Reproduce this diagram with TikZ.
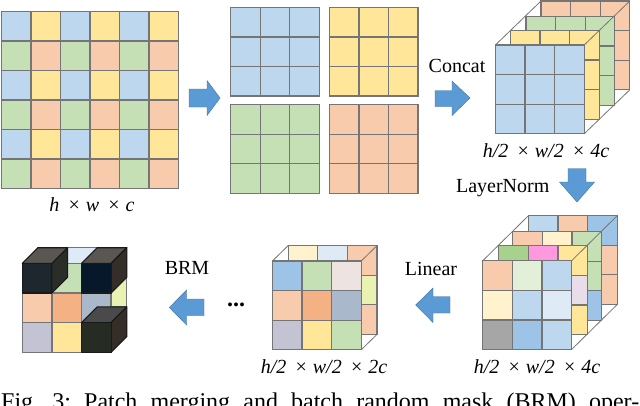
\documentclass[tikz,border=0pt]{standalone}
\usepackage{fontspec}
\setmainfont{Liberation Serif}
\definecolor{gridc}{HTML}{757575}
\definecolor{cb}{HTML}{BDD7EE}
\definecolor{cy}{HTML}{FFE699}
\definecolor{cg}{HTML}{C5E0B4}
\definecolor{co}{HTML}{F8CBAD}
\definecolor{cm}{HTML}{9DC3E6}
\definecolor{cl}{HTML}{DEEBF7}
\definecolor{cc}{HTML}{FFF2CC}
\definecolor{cq}{HTML}{E2F0D9}
\definecolor{cs}{HTML}{A6A6A6}
\definecolor{cd}{HTML}{A9D18E}
\definecolor{cp}{HTML}{FF99DD}
\definecolor{cv}{HTML}{E8DDE8}
\definecolor{ce}{HTML}{EDE3E0}
\definecolor{ca}{HTML}{F4B183}
\definecolor{ct}{HTML}{A9B8CB}
\definecolor{cu}{HTML}{C3C3D3}
\definecolor{ci}{HTML}{E9F2B0}
\definecolor{arrowfill}{HTML}{5B9BD5}
\definecolor{arrowline}{HTML}{41719C}
\definecolor{frontA}{HTML}{1E272E}
\definecolor{frontB}{HTML}{06182A}
\definecolor{frontC}{HTML}{262B24}
\definecolor{topA}{HTML}{5A5752}
\definecolor{topC}{HTML}{4A4A4A}
\definecolor{sideA}{HTML}{2A2E28}
\definecolor{sideB}{HTML}{352E28}
\tikzset{
  cellbox/.style={fill=#1,draw=gridc,line width=1.3pt},
  depthline/.style={draw=gridc,line width=0.8pt},
  bluearrow/.style={fill=arrowfill,draw=arrowline,line width=0.4pt},
  lab/.style={inner sep=0pt,font=\fontsize{20}{22}\selectfont},
  dim/.style={inner sep=0pt,font=\fontsize{20}{22}\selectfont\itshape},
  darkedge/.style={draw=black!90,line width=1.1pt,line join=round}
}
% x0, y0, cell size, columns, colour list
\newcommand\cellgrid[5]{%
  \foreach \cc [count=\ii from 0] in {#5} {%
    \pgfmathtruncatemacro\colno{mod(\ii,#4)}%
    \pgfmathtruncatemacro\rowno{floor(\ii/#4)}%
    \path[cellbox=\cc] ({#1+\colno*#3},{#2+\rowno*#3}) rectangle +(#3,#3);
  }}
% front x0,y0, size, dx, dy : depth lines
\newcommand\depthlines[5]{%
  \path[depthline] (#1,#2) -- +(#4,-#5);
  \path[depthline] ({#1+#3},#2) -- +(#4,-#5);
  \path[depthline] ({#1+#3},{#2+#3}) -- +(#4,-#5);}
% x,y,size,depth,front,top,side
\newcommand\darkcube[7]{%
  \path[darkedge,fill=#6] (#1,#2) -- +(#4,-#4) -- +({#3+#4},-#4) -- +(#3,0) -- cycle;
  \path[darkedge,fill=#7] ({#1+#3},#2) -- +(#4,-#4) -- +(#4,{#3-#4}) -- +(0,#3) -- cycle;
  \path[darkedge,fill=#5] (#1,#2) rectangle +(#3,#3);}
\begin{document}
\begin{tikzpicture}[x=1pt,y=-1pt]
\useasboundingbox (0,0) rectangle (640,405);
\fill[white] (0,0) rectangle (640,405);
% checkerboard
\cellgrid{1.5}{11.5}{29.5}{6}{cb,cy,cb,cy,cb,cy,cg,co,cg,co,cg,co,cb,cy,cb,cy,cb,cy,cg,co,cg,co,cg,co,cb,cy,cb,cy,cb,cy,cg,co,cg,co,cg,co}
\node[dim] (dimA) at (92,205) {h\hspace{3pt} × w\hspace{3pt} × c};
\path[bluearrow] (189,89) -- (207,89) -- (207,80.5) -- (220,98) -- (207,115.5) -- (207,107) -- (189,107) -- cycle;
% four split grids
\cellgrid{230.8}{7.4}{29.5}{3}{cb,cb,cb,cb,cb,cb,cb,cb,cb}
\cellgrid{329.6}{7.4}{29.5}{3}{cy,cy,cy,cy,cy,cy,cy,cy,cy}
\cellgrid{230.8}{104.8}{29.5}{3}{cg,cg,cg,cg,cg,cg,cg,cg,cg}
\cellgrid{329.6}{104.8}{29.5}{3}{co,co,co,co,co,co,co,co,co}
\path[bluearrow] (435,90.5) -- (452,90.5) -- (452,81) -- (470,98) -- (452,115.5) -- (452,106.5) -- (435,106.5) -- cycle;
\node[lab] (concat) at (457,66) {Concat};
% concat cube
\cellgrid{541}{1}{29.6}{3}{co,co,co,co,co,co,co,co,co}
\cellgrid{526}{16.5}{29.6}{3}{cg,cg,cg,cg,cg,cg,cg,cg,cg}
\cellgrid{510.5}{30.5}{29.6}{3}{cy,cy,cy,cy,cy,cy,cy,cy,cy}
\cellgrid{495.4}{45}{29.6}{3}{cb,cb,cb,cb,cb,cb,cb,cb,cb}
\depthlines{495.4}{45}{88.8}{45.6}{44}
\node[dim] (dimB) at (546,151) {h/2\hspace{3pt} × w/2\hspace{3pt} × 4c};
\node[lab] (lnorm) at (502.7,188) {LayerNorm};
\path[bluearrow] (568,168.5) -- (586,168.5) -- (586,182) -- (594.5,182) -- (577,202) -- (559.5,182) -- (568,182) -- cycle;
% layernorm cube
\cellgrid{528.4}{215.6}{29.6}{3}{cb,co,cm,cb,cb,co,cb,cb,co}
\cellgrid{512.7}{231.6}{29.6}{3}{co,cc,cg,cb,cb,cg,cb,cb,cm}
\cellgrid{498.7}{245.7}{29.6}{3}{cd,cp,cy,cb,cb,cv,cb,cb,cy}
\cellgrid{482.8}{260.7}{29.6}{3}{co,cq,cb,cc,cb,cl,cs,cm,cb}
\depthlines{482.8}{260.7}{88.8}{45.6}{45}
\node[dim] (dimC) at (537,366.5) {h/2\hspace{3pt} × w/2\hspace{3pt} × 4c};
\path[bluearrow] (450,296.7) -- (433,296.7) -- (433,288) -- (415.7,305) -- (433,322.5) -- (433,313) -- (450,313) -- cycle;
\node[lab] (linear) at (431,269) {Linear};
% linear cube
\cellgrid{288.2}{245.6}{29.6}{3}{cc,cl,co,cb,cb,ci,cb,cb,co}
\cellgrid{272.4}{261}{29.6}{3}{cm,cg,ce,co,ca,ct,cu,cy,cg}
\depthlines{272.4}{261}{88.8}{15.8}{15.4}
\node[dim] (dimD) at (324,367) {h/2\hspace{3pt} × w/2\hspace{3pt} × 2c};
\node[font=\fontsize{24}{26}\selectfont\bfseries,inner sep=0pt] (dots) at (236,304.5) {...};
\path[bluearrow] (204,299) -- (186.7,299) -- (186.7,290) -- (169.3,307.5) -- (186.7,325) -- (186.7,315.7) -- (204,315.7) -- cycle;
\node[lab] (brm) at (187,268) {BRM};
% masked cube
\cellgrid{38}{247.7}{29.6}{3}{cb,cl,co,cb,cb,ci,cb,cb,co}
\cellgrid{22.3}{263.4}{29.6}{3}{cg,cg,cg,co,ca,ct,cu,cy,cg}
\darkcube{22.3}{263.4}{29.6}{15.7}{frontA}{topA}{sideA}
\darkcube{81.5}{263.4}{29.6}{15.7}{frontB}{topA}{sideB}
\darkcube{81.5}{322.6}{29.6}{15.7}{frontC}{topC}{sideB}
% caption, cut by the page edge as in the reference
\node[anchor=base west,inner sep=0pt,font=\fontsize{24}{26}\selectfont] (caption) at (1,409) {\frenchspacing\makebox[638pt][s]{Fig. 3: Patch merging and batch random mask (BRM) oper-}};
\end{tikzpicture}
\end{document}
